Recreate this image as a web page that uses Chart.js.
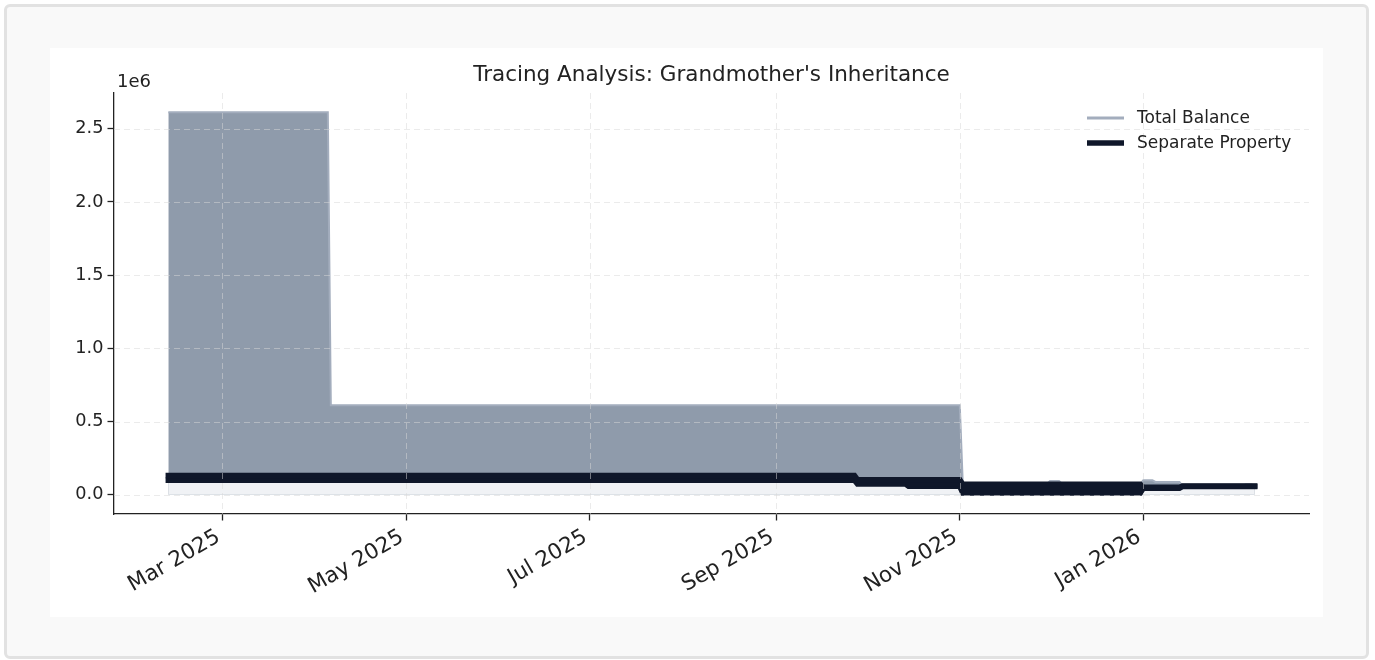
<!DOCTYPE html>
<html>
<head>
<meta charset="utf-8">
<script src="https://cdn.jsdelivr.net/npm/chart.js@4.4.1/dist/chart.umd.min.js"></script>
<style>
html,body{margin:0;padding:0;background:#fff;}
body{width:1375px;height:660px;position:relative;overflow:hidden;}
#frame{position:absolute;left:4px;top:4px;width:1359px;height:649px;border:3px solid #e2e2e2;border-radius:6px;background:#f9f9f9;}
#wrap{position:absolute;left:50px;top:48px;width:1273px;height:569px;background:#fff;}
canvas{display:block;}
</style>
</head>
<body>
<div id="frame"></div>
<div id="wrap"><canvas id="c" width="1273" height="569"></canvas></div>
<script>
// ---------------- data ----------------
const chartTitle = "Tracing Analysis: Grandmother's Inheritance";
const seriesNames = ["Total Balance", "Separate Property"];

const totalDates = ["2025-02-11","2025-04-05","2025-04-06","2025-11-01","2025-11-02","2025-11-30","2025-12-01","2025-12-04","2025-12-05","2025-12-31","2026-01-01","2026-01-04","2026-01-05","2026-01-13","2026-01-14","2026-02-03","2026-02-04","2026-02-06","2026-02-07"];
const totalValues = [2613000,2613000,612000,612000,75000,75000,95000,95000,75000,75000,100000,100000,88000,88000,62000,62000,70000,70000,62000];

const sepDates = ["2025-02-11","2025-09-27","2025-09-28","2025-10-14","2025-10-15","2025-11-01","2025-11-02","2025-12-31","2026-01-01","2026-01-13","2026-01-14","2026-02-07"];
const sepHigh = [133000,133000,104000,104000,104000,104000,72000,72000,52000,52000,61000,61000];
const sepLow  = [99000,99000,74000,74000,58000,58000,12000,12000,46000,46000,57000,57000];

const xTickDates  = ["2025-03-01","2025-05-01","2025-07-01","2025-09-01","2025-11-01","2026-01-01"];
const xTickLabels = ["Mar 2025","May 2025","Jul 2025","Sep 2025","Nov 2025","Jan 2026"];
const yTickValues = [0,500000,1000000,1500000,2000000,2500000];
const yTickLabels = ["0.0","0.5","1.0","1.5","2.0","2.5"];
const yOffsetLabel = "1e6";

// ---------------- helpers ----------------
const toMs = s => Date.parse(s + "T00:00:00Z");
const pts = (dates, vals) => dates.map((d, i) => ({x: toMs(d), y: vals[i]}));
const FONT = '"DejaVu Sans", "Liberation Sans", sans-serif';
const TXT = '#222222';

const allX = totalDates.concat(sepDates).map(toMs);
const x0 = Math.min(...allX), x1 = Math.max(...allX);
const xMin = x0 - 0.05 * (x1 - x0), xMax = x1 + 0.05 * (x1 - x0);
const yTop = Math.max(...totalValues);
const yMin = -0.05 * yTop, yMax = 1.05 * yTop;

const COL_FILL = 'rgb(143,155,171)';
const COL_TOTAL = '#a3adbd';
const COL_DARK = '#0f172a';
const COL_LIGHT = 'rgb(240,242,245)';

const overlay = {
  id: 'overlay',
  afterDatasetsDraw(chart) {
    const {ctx, chartArea: a, scales: {x, y}} = chart;
    ctx.save();
    ctx.strokeStyle = 'rgba(215,215,215,0.5)';
    ctx.lineWidth = 1;
    ctx.setLineDash([6, 4]);
    yTickValues.forEach(v => {
      const py = Math.round(y.getPixelForValue(v)) + 0.5;
      ctx.beginPath(); ctx.moveTo(a.left, py); ctx.lineTo(a.right, py); ctx.stroke();
    });
    xTickDates.forEach(d => {
      const px = Math.round(x.getPixelForValue(toMs(d))) + 0.5;
      ctx.beginPath(); ctx.moveTo(px, a.top); ctx.lineTo(px, a.bottom); ctx.stroke();
    });
    ctx.restore();
  },
  afterDraw(chart) {
    const {ctx, chartArea: a} = chart;
    ctx.save();
    ctx.fillStyle = TXT;
    // title
    ctx.font = '21.5px ' + FONT;
    ctx.textAlign = 'center';
    ctx.textBaseline = 'middle';
    ctx.fillText(chartTitle, (a.left + a.right) / 2, 27);
    // offset label
    ctx.font = '18px ' + FONT;
    ctx.textAlign = 'left';
    ctx.fillText(yOffsetLabel, a.left + 3, 34);
    // legend
    const lx = 1037, lw = 37, tx = 1087;
    const rows = [
      {label: seriesNames[0], color: COL_TOTAL, width: 3, y: 70},
      {label: seriesNames[1], color: COL_DARK, width: 5.5, y: 95}
    ];
    ctx.font = '17px ' + FONT;
    rows.forEach(r => {
      ctx.strokeStyle = r.color; ctx.lineWidth = r.width; ctx.lineCap = 'butt';
      ctx.beginPath(); ctx.moveTo(lx, r.y); ctx.lineTo(lx + lw, r.y); ctx.stroke();
      ctx.fillStyle = TXT;
      ctx.fillText(r.label, tx, r.y + 1);
    });
    ctx.restore();
  }
};

new Chart(document.getElementById('c'), {
  type: 'line',
  data: {
    datasets: [
      {
        label: seriesNames[0],
        data: pts(totalDates, totalValues),
        borderColor: COL_TOTAL, borderWidth: 2,
        backgroundColor: COL_FILL, fill: 'origin',
        pointRadius: 0, order: 3, tension: 0
      },
      {
        label: 'sepLow',
        data: pts(sepDates, sepLow),
        borderColor: COL_DARK, borderWidth: 5.5, borderCapStyle: 'square',
        backgroundColor: COL_LIGHT, fill: 'origin',
        pointRadius: 0, order: 2, tension: 0
      },
      {
        label: seriesNames[1],
        data: pts(sepDates, sepHigh),
        borderColor: COL_DARK, borderWidth: 5.5, borderCapStyle: 'square',
        backgroundColor: COL_DARK, fill: {target: 1},
        pointRadius: 0, order: 1, tension: 0
      }
    ]
  },
  options: {
    responsive: false,
    animation: false,
    devicePixelRatio: 1,
    layout: {padding: {top: 45, right: 14, left: 0, bottom: 0}},
    plugins: {legend: {display: false}, title: {display: false}, tooltip: {enabled: false}},
    scales: {
      x: {
        type: 'linear', min: xMin, max: xMax,
        afterBuildTicks: s => { s.ticks = xTickDates.map(d => ({value: toMs(d)})); },
        afterFit: s => { s.height = 103; },
        ticks: {
          autoSkip: false, minRotation: 30, maxRotation: 30, padding: 4, labelOffset: -4,
          color: TXT, font: {family: FONT, size: 21.5},
          callback: (v, i) => xTickLabels[i]
        },
        grid: {drawOnChartArea: false, drawTicks: true, tickLength: 6.5, color: TXT, tickWidth: 1.3},
        border: {display: true, color: TXT, width: 1.3}
      },
      y: {
        type: 'linear', min: yMin, max: yMax,
        afterBuildTicks: s => { s.ticks = yTickValues.map(v => ({value: v})); },
        afterFit: s => { s.width = 64; },
        ticks: {
          autoSkip: false, padding: 4,
          color: TXT, font: {family: FONT, size: 17.7},
          callback: (v, i) => yTickLabels[i]
        },
        grid: {drawOnChartArea: false, drawTicks: true, tickLength: 6.5, color: TXT, tickWidth: 1.3},
        border: {display: true, color: TXT, width: 1.3}
      }
    }
  },
  plugins: [overlay]
});
</script>
</body>
</html>
